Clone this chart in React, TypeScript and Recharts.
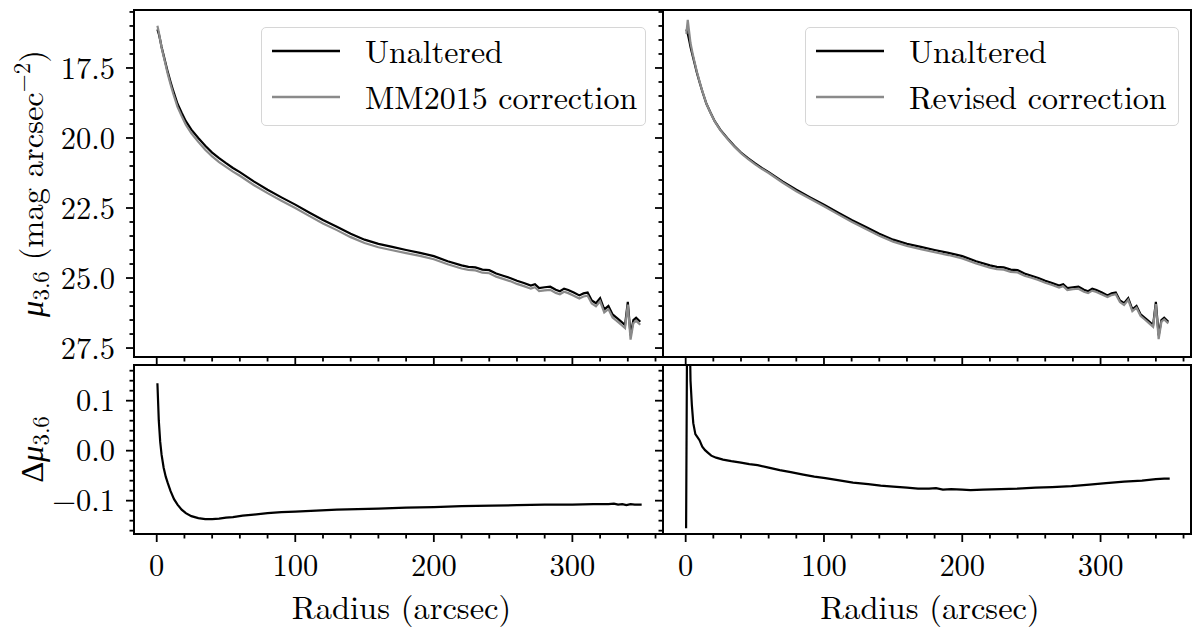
import { LineChart, Line, XAxis, YAxis, Legend } from 'recharts';

// surface brightness profiles (shared radius grid, arcsec)
const radius = [
  0.5, 1.5, 2.5, 3.5, 5, 6, 8, 10, 12, 15, 18, 21, 25, 30, 35, 40, 45, 50, 55, 60,
  70, 80, 90, 100, 110, 120, 130, 140, 150, 160, 170, 180, 190, 200, 210, 220, 225, 230, 235, 240,
  245, 250, 255, 260, 265, 270, 273, 276, 280, 284, 288, 291, 294, 297, 301, 305, 308, 311, 314, 317,
  320, 323, 326, 329, 332, 335, 338, 340, 342, 344, 346, 349,
];
const unaltered = [
  16.12, 16.28, 16.5, 16.75, 17.05, 17.25, 17.65, 18.0, 18.33, 18.78,
  19.1, 19.4, 19.7, 20.0, 20.28, 20.52, 20.72, 20.9, 21.07, 21.22,
  21.55, 21.85, 22.12, 22.38, 22.66, 22.93, 23.17, 23.42, 23.63, 23.78,
  23.89, 24.0, 24.1, 24.22, 24.4, 24.55, 24.6, 24.62, 24.7, 24.72,
  24.84, 24.92, 25.0, 25.1, 25.18, 25.27, 25.22, 25.36, 25.33, 25.31,
  25.42, 25.47, 25.38, 25.43, 25.52, 25.62, 25.55, 25.52, 25.8, 25.9,
  25.72, 26.12, 26.0, 26.3, 26.42, 26.55, 26.68, 25.85, 27.05, 26.5,
  26.42, 26.56,
];
const mm2015Corrected = [
  15.99, 16.22, 16.49, 16.77, 17.09, 17.3, 17.72, 18.09, 18.43, 18.89,
  19.22, 19.53, 19.83, 20.14, 20.42, 20.66, 20.86, 21.03, 21.2, 21.35,
  21.68, 21.97, 22.24, 22.5, 22.78, 23.05, 23.29, 23.54, 23.75, 23.9,
  24.01, 24.11, 24.21, 24.33, 24.51, 24.66, 24.71, 24.73, 24.81, 24.83,
  24.95, 25.03, 25.11, 25.21, 25.29, 25.38, 25.33, 25.47, 25.44, 25.42,
  25.53, 25.58, 25.49, 25.54, 25.63, 25.73, 25.66, 25.63, 25.91, 26.01,
  25.83, 26.23, 26.11, 26.41, 26.53, 26.66, 26.79, 25.95, 27.2, 26.61,
  26.53, 26.67,
];
const revisedCorrected = [
  16.28, 15.78, 16.2, 16.61, 16.98, 17.2, 17.62, 17.98, 18.32, 18.78,
  19.11, 19.41, 19.72, 20.02, 20.3, 20.54, 20.75, 20.93, 21.1, 21.25,
  21.59, 21.9, 22.17, 22.44, 22.72, 22.99, 23.24, 23.49, 23.7, 23.85,
  23.97, 24.08, 24.18, 24.3, 24.48, 24.63, 24.68, 24.7, 24.78, 24.8,
  24.92, 24.99, 25.07, 25.17, 25.25, 25.34, 25.29, 25.43, 25.4, 25.38,
  25.49, 25.54, 25.45, 25.5, 25.59, 25.68, 25.61, 25.58, 25.86, 25.96,
  25.78, 26.18, 26.06, 26.36, 26.48, 26.61, 26.74, 25.93, 27.18, 26.56,
  26.48, 26.62,
];

// differences
const mmDeltaRadius = [
  0.5, 1.5, 2.5, 3.5, 5, 6.5, 8, 10, 12.5, 15, 18, 21, 25, 30, 35, 40, 45, 50, 55, 62,
  70, 80, 90, 100, 115, 130, 145, 160, 180, 200, 220, 242, 260, 280, 300, 315, 326, 330, 333, 336,
  339, 342, 345, 350,
];
const mmDelta = [
  0.135, 0.06, 0.018, -0.008, -0.034, -0.052, -0.065, -0.081, -0.097, -0.108,
  -0.118, -0.125, -0.131, -0.135, -0.137, -0.137, -0.136, -0.134, -0.133, -0.13,
  -0.128, -0.125, -0.123, -0.122, -0.12, -0.118, -0.117, -0.116, -0.114, -0.113,
  -0.111, -0.11, -0.109, -0.108, -0.108, -0.107, -0.107, -0.106, -0.108, -0.107,
  -0.109, -0.107, -0.108, -0.108,
];
const revDeltaRadius = [
  0.3, 1.5, 2.5, 3.5, 4.5, 5.5, 7, 8.5, 10, 12, 14, 16, 18.5, 22, 27, 33, 40, 46, 52, 60,
  68, 76, 85, 93, 101, 110, 121, 132, 141, 150, 160, 168, 176, 181, 186, 192, 200, 206, 215, 228,
  240, 253, 265, 279, 292, 304, 317, 330, 340, 346, 350,
];
const revDelta = [
  -0.155, 0.5, 0.3, 0.14, 0.09, 0.055, 0.033, 0.027, 0.021, 0.008,
  0.001, -0.004, -0.01, -0.014, -0.018, -0.021, -0.024, -0.027, -0.029, -0.034,
  -0.039, -0.043, -0.048, -0.052, -0.055, -0.059, -0.064, -0.067, -0.07, -0.072,
  -0.074, -0.076, -0.076, -0.075, -0.078, -0.077, -0.078, -0.079, -0.078, -0.077,
  -0.076, -0.074, -0.073, -0.071, -0.068, -0.065, -0.062, -0.06, -0.057, -0.056,
  -0.056,
];

// ticks
const radiusTicks = [0, 20, 40, 60, 80, 100, 120, 140, 160, 180, 200, 220, 240, 260, 280, 300, 320, 340, 360];
const radiusMajor = [0, 100, 200, 300];
const radiusLabels = ['0', '100', '200', '300'];
const muTicks = [15.5, 16, 16.5, 17, 17.5, 18, 18.5, 19, 19.5, 20, 20.5, 21, 21.5, 22, 22.5, 23, 23.5, 24, 24.5, 25, 25.5, 26, 26.5, 27, 27.5];
const muMajor = [17.5, 20, 22.5, 25, 27.5];
const muLabels = ['17.5', '20.0', '22.5', '25.0', '27.5'];
const deltaTicks = [-0.16, -0.14, -0.12, -0.1, -0.08, -0.06, -0.04, -0.02, 0, 0.02, 0.04, 0.06, 0.08, 0.1, 0.12, 0.14, 0.16];
const deltaMajor = [-0.1, 0, 0.1];
const deltaLabels = ['\u22120.1', '0.0', '0.1'];
const legendOrder = ['Unaltered', 'MM2015 correction', 'Revised correction'];

const RADIUS_DOMAIN: [number, number] = [-16.4, 365.4];
const MU_DOMAIN: [number, number] = [15.43, 27.82];
const DELTA_DOMAIN: [number, number] = [-0.1667, 0.1714];

const FONT = '"Latin Modern Roman", "Liberation Serif", serif';
const GREEK = '"Liberation Serif", serif';
const GRAY = '#8a8a8a';

// plot rectangles (page px)
const X_LEFT = 134;
const X_MID = 663;
const X_RIGHT = 1191;
const TOP_Y0 = 10;
const TOP_Y1 = 357;
const BOT_Y0 = 365;
const BOT_Y1 = 534;
const TOP_SPARE = 24; // extra room below the top panels so the last tick label isn't clipped

const topData = radius.map((r, i) => ({
  r,
  unaltered: unaltered[i],
  mm2015: mm2015Corrected[i],
  revised: revisedCorrected[i],
}));
const mmDeltaData = mmDeltaRadius.map((r, i) => ({ r, delta: mmDelta[i] }));
const revDeltaData = revDeltaRadius.map((r, i) => ({ r, delta: revDelta[i] }));

const textStyle = { fontFamily: FONT };
const greekStyle = { fontFamily: GREEK };

function majorIndex(majors: number[], v: number) {
  return majors.findIndex((m) => Math.abs(m - v) < 1e-6);
}

function makeXTick(showLabels: boolean) {
  return (props: any) => {
    const { x, y, payload } = props;
    const idx = majorIndex(radiusMajor, payload.value);
    const len = idx >= 0 ? 8 : 4.5;
    return (
      <g>
        <line x1={x} x2={x} y1={y} y2={y + len} stroke="#000" strokeWidth={1.8} />
        {showLabels && idx >= 0 && (
          <text x={x} y={y + 42} textAnchor="middle" style={textStyle} fontSize={30.5} fill="#000">
            {radiusLabels[idx]}
          </text>
        )}
      </g>
    );
  };
}

function makeYTick(majors: number[], labels: string[] | null, dy: number) {
  return (props: any) => {
    const { x, y, payload } = props;
    const idx = majorIndex(majors, payload.value);
    const len = idx >= 0 ? 8 : 4.5;
    return (
      <g>
        <line x1={x - len} x2={x} y1={y} y2={y} stroke="#000" strokeWidth={1.8} />
        {labels && idx >= 0 && (
          <text x={x - 19} y={y + dy} textAnchor="end" style={textStyle} fontSize={30.5} fill="#000">
            {labels[idx]}
          </text>
        )}
      </g>
    );
  };
}

const renderRadiusLabel = (props: any) => {
  const vb = props.viewBox;
  return (
    <text x={vb.x + vb.width / 2 + 3} y={vb.y + 85} textAnchor="middle" style={textStyle} fontSize={32.5} fill="#000">
      Radius (arcsec)
    </text>
  );
};

const renderMuLabel = (props: any) => {
  const vb = props.viewBox;
  const cx = vb.x + 43;
  const cy = vb.y + vb.height / 2;
  return (
    <text transform={`rotate(-90 ${cx} ${cy})`} x={cx} y={cy} textAnchor="middle" style={textStyle} fontSize={32.5} fill="#000">
      <tspan style={greekStyle} fontStyle="italic">μ</tspan>
      <tspan fontSize={23} dy={6}>3.6</tspan>
      <tspan dy={-6}>{' (mag arcsec'}</tspan>
      <tspan fontSize={23} dy={-13}>{'\u22122'}</tspan>
      <tspan dy={13}>)</tspan>
    </text>
  );
};

const renderDeltaLabel = (props: any) => {
  const vb = props.viewBox;
  const cx = vb.x + 43;
  const cy = vb.y + vb.height / 2;
  return (
    <text transform={`rotate(-90 ${cx} ${cy})`} x={cx} y={cy} textAnchor="middle" style={textStyle} fontSize={32.5} fill="#000">
      <tspan style={greekStyle}>Δ</tspan>
      <tspan style={greekStyle} fontStyle="italic">μ</tspan>
      <tspan fontSize={23} dy={6}>3.6</tspan>
    </text>
  );
};

function makeLegend(width: number) {
  return (props: any) => {
    const items = [...(props.payload ?? [])].sort(
      (a: any, b: any) => legendOrder.indexOf(a.value) - legendOrder.indexOf(b.value),
    );
    return (
      <div
        style={{
          width,
          height: 99,
          boxSizing: 'border-box',
          border: '1.3px solid #d6d6d6',
          borderRadius: 5,
          background: 'rgba(255,255,255,0.8)',
        }}
      >
        <svg width={width - 3} height={96} style={{ display: 'block' }}>
          {items.map((it: any, i: number) => (
            <g key={it.value}>
              <line x1={10} x2={78} y1={23 + i * 46} y2={23 + i * 46} stroke={it.color} strokeWidth={2.4} />
              <text x={103} y={35 + i * 46} style={textStyle} fontSize={32} fill="#000">
                {it.value}
              </text>
            </g>
          ))}
        </svg>
      </div>
    );
  };
}

function Frame({ x0, y0, x1, y1 }: { x0: number; y0: number; x1: number; y1: number }) {
  return (
    <div
      style={{
        position: 'absolute',
        left: x0 - 1,
        top: y0 - 1,
        width: x1 - x0 + 2,
        height: y1 - y0 + 2,
        border: '2px solid #000',
        boxSizing: 'border-box',
        pointerEvents: 'none',
      }}
    />
  );
}

const xAxisCommon = {
  dataKey: 'r',
  type: 'number' as const,
  domain: RADIUS_DOMAIN,
  ticks: radiusTicks,
  interval: 0 as const,
  tickLine: false,
  axisLine: false,
  tickSize: 0,
  tickMargin: 0,
  allowDataOverflow: true,
};

export default function App() {
  const sideW = X_RIGHT - (X_MID - 10);
  const topH = TOP_Y1 + 8 + TOP_SPARE;
  return (
    <div style={{ position: 'absolute', left: 0, top: 0, width: 1200, height: 627, background: '#fff', overflow: 'hidden' }}>
      {/* top left */}
      <div style={{ position: 'absolute', left: 0, top: 0 }}>
        <LineChart width={X_MID} height={topH} data={topData} margin={{ top: TOP_Y0, right: 0, bottom: TOP_SPARE, left: 0 }}>
          <XAxis {...xAxisCommon} height={8} tick={makeXTick(false)} />
          <YAxis
            type="number"
            domain={MU_DOMAIN}
            reversed
            width={X_LEFT}
            ticks={muTicks}
            interval={0}
            tickLine={false}
            axisLine={false}
            tickSize={0}
            tickMargin={0}
            allowDataOverflow
            tick={makeYTick(muMajor, muLabels, 11)}
            label={renderMuLabel}
          />
          <Legend
            layout="vertical"
            align="center"
            verticalAlign="middle"
            content={makeLegend(385)}
            wrapperStyle={{ left: 261, top: 27, width: 385, height: 99 }}
          />
          <Line dataKey="unaltered" name="Unaltered" stroke="#000" strokeWidth={2.2} dot={false} isAnimationActive={false} />
          <Line dataKey="mm2015" name="MM2015 correction" stroke={GRAY} strokeWidth={2.2} dot={false} isAnimationActive={false} />
        </LineChart>
      </div>

      {/* top right */}
      <div style={{ position: 'absolute', left: X_MID - 10, top: 0 }}>
        <LineChart width={sideW} height={topH} data={topData} margin={{ top: TOP_Y0, right: 0, bottom: TOP_SPARE, left: 0 }}>
          <XAxis {...xAxisCommon} height={8} tick={makeXTick(false)} />
          <YAxis
            type="number"
            domain={MU_DOMAIN}
            reversed
            width={10}
            ticks={muTicks}
            interval={0}
            tickLine={false}
            axisLine={false}
            tickSize={0}
            tickMargin={0}
            allowDataOverflow
            tick={makeYTick(muMajor, null, 0)}
          />
          <Legend
            layout="vertical"
            align="center"
            verticalAlign="middle"
            content={makeLegend(374)}
            wrapperStyle={{ left: 805 - (X_MID - 10), top: 27, width: 374, height: 99 }}
          />
          <Line dataKey="unaltered" name="Unaltered" stroke="#000" strokeWidth={2.2} dot={false} isAnimationActive={false} />
          <Line dataKey="revised" name="Revised correction" stroke={GRAY} strokeWidth={2.2} dot={false} isAnimationActive={false} />
        </LineChart>
      </div>

      {/* bottom left */}
      <div style={{ position: 'absolute', left: 0, top: BOT_Y0 }}>
        <LineChart width={X_MID} height={627 - BOT_Y0} data={mmDeltaData} margin={{ top: 0, right: 0, bottom: 0, left: 0 }}>
          <XAxis {...xAxisCommon} height={627 - BOT_Y1} tick={makeXTick(true)} label={renderRadiusLabel} />
          <YAxis
            type="number"
            domain={DELTA_DOMAIN}
            width={X_LEFT}
            ticks={deltaTicks}
            interval={0}
            tickLine={false}
            axisLine={false}
            tickSize={0}
            tickMargin={0}
            allowDataOverflow
            tick={makeYTick(deltaMajor, deltaLabels, 10.5)}
            label={renderDeltaLabel}
          />
          <Line dataKey="delta" stroke="#000" strokeWidth={2.2} dot={false} isAnimationActive={false} />
        </LineChart>
      </div>

      {/* bottom right */}
      <div style={{ position: 'absolute', left: X_MID - 10, top: BOT_Y0 }}>
        <LineChart width={sideW} height={627 - BOT_Y0} data={revDeltaData} margin={{ top: 0, right: 0, bottom: 0, left: 0 }}>
          <XAxis {...xAxisCommon} height={627 - BOT_Y1} tick={makeXTick(true)} label={renderRadiusLabel} />
          <YAxis
            type="number"
            domain={DELTA_DOMAIN}
            width={10}
            ticks={deltaTicks}
            interval={0}
            tickLine={false}
            axisLine={false}
            tickSize={0}
            tickMargin={0}
            allowDataOverflow
            tick={makeYTick(deltaMajor, null, 0)}
          />
          <Line dataKey="delta" stroke="#000" strokeWidth={2.2} dot={false} isAnimationActive={false} />
        </LineChart>
      </div>

      <Frame x0={X_LEFT} y0={TOP_Y0} x1={X_MID} y1={TOP_Y1} />
      <Frame x0={X_MID} y0={TOP_Y0} x1={X_RIGHT} y1={TOP_Y1} />
      <Frame x0={X_LEFT} y0={BOT_Y0} x1={X_MID} y1={BOT_Y1} />
      <Frame x0={X_MID} y0={BOT_Y0} x1={X_RIGHT} y1={BOT_Y1} />
    </div>
  );
}
